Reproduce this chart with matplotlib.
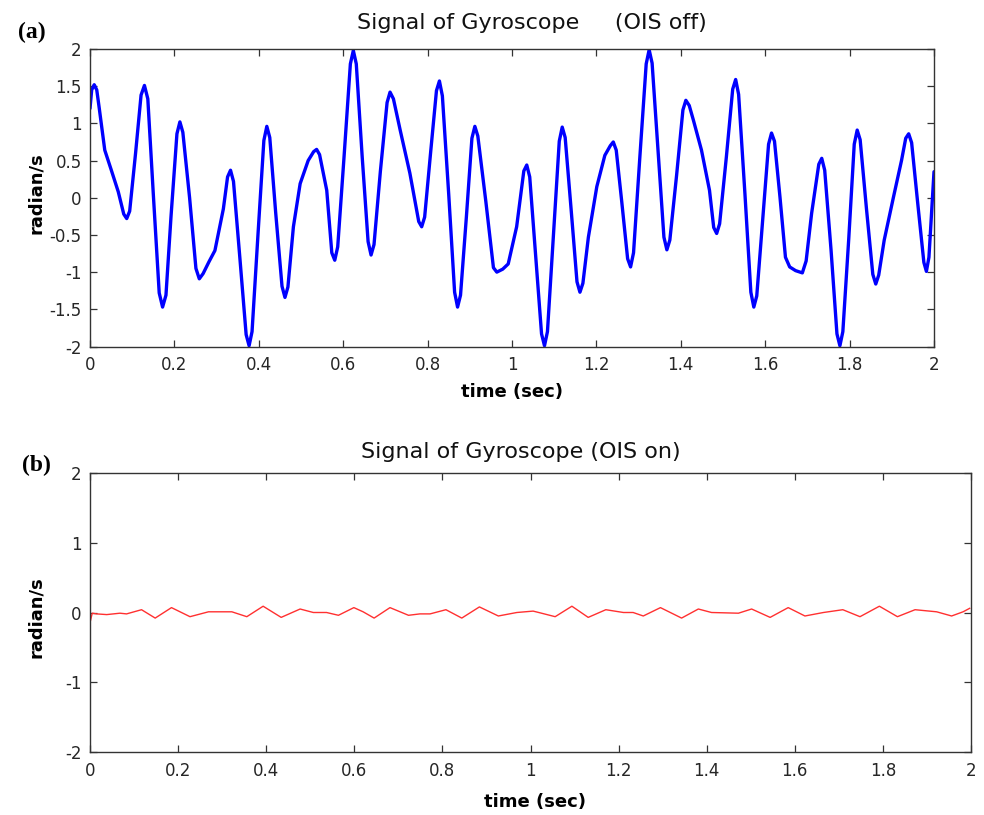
import matplotlib
matplotlib.use("Agg")
import matplotlib.pyplot as plt

# ---------------- data ----------------
t_off = [0.000, 0.004, 0.010, 0.016, 0.022, 0.035, 0.050, 0.067, 0.080, 0.087,
         0.094, 0.108, 0.121, 0.129, 0.137, 0.150, 0.164, 0.172, 0.180, 0.192,
         0.206, 0.213, 0.220, 0.236, 0.251, 0.259, 0.268, 0.282, 0.296, 0.316,
         0.326, 0.333, 0.340, 0.355, 0.370, 0.377, 0.384, 0.398, 0.412, 0.419,
         0.426, 0.440, 0.455, 0.462, 0.469, 0.482, 0.498, 0.517, 0.530, 0.537,
         0.544, 0.561, 0.573, 0.580, 0.587, 0.602, 0.617, 0.624, 0.631, 0.645,
         0.659, 0.666, 0.673, 0.688, 0.704, 0.711, 0.719, 0.735, 0.758, 0.779,
         0.786, 0.793, 0.807, 0.821, 0.828, 0.835, 0.850, 0.864, 0.871, 0.878,
         0.892, 0.905, 0.912, 0.919, 0.938, 0.956, 0.964, 0.978, 0.991, 1.011,
         1.028, 1.035, 1.042, 1.056, 1.070, 1.077, 1.084, 1.098, 1.112, 1.119,
         1.126, 1.140, 1.154, 1.161, 1.168, 1.181, 1.201, 1.220, 1.233, 1.240,
         1.247, 1.260, 1.274, 1.281, 1.288, 1.303, 1.318, 1.325, 1.332, 1.346,
         1.360, 1.367, 1.374, 1.390, 1.405, 1.412, 1.420, 1.430, 1.449, 1.468,
         1.478, 1.485, 1.492, 1.508, 1.523, 1.530, 1.537, 1.552, 1.566, 1.573,
         1.580, 1.594, 1.608, 1.615, 1.622, 1.635, 1.648, 1.658, 1.672, 1.688,
         1.697, 1.710, 1.727, 1.734, 1.741, 1.756, 1.770, 1.777, 1.784, 1.798,
         1.811, 1.818, 1.825, 1.840, 1.855, 1.862, 1.869, 1.882, 1.904, 1.923,
         1.933, 1.940, 1.947, 1.961, 1.976, 1.982, 1.988, 2.000]
v_off = [1.20, 1.45, 1.52, 1.45, 1.20, 0.64, 0.38, 0.08, -0.22, -0.28,
         -0.18, 0.60, 1.38, 1.51, 1.33, 0.05, -1.28, -1.47, -1.31, -0.25,
         0.86, 1.02, 0.88, 0.00, -0.95, -1.09, -1.02, -0.86, -0.71, -0.15,
         0.28, 0.37, 0.22, -0.80, -1.84, -1.99, -1.80, -0.50, 0.77, 0.96,
         0.81, -0.20, -1.19, -1.34, -1.20, -0.39, 0.19, 0.50, 0.62, 0.65,
         0.58, 0.10, -0.74, -0.84, -0.66, 0.55, 1.80, 1.98, 1.80, 0.55,
         -0.59, -0.77, -0.63, 0.35, 1.28, 1.42, 1.33, 0.91, 0.33, -0.32,
         -0.39, -0.26, 0.60, 1.44, 1.57, 1.37, 0.05, -1.27, -1.47, -1.31,
         -0.25, 0.80, 0.96, 0.83, -0.05, -0.94, -1.00, -0.96, -0.89, -0.39,
         0.36, 0.44, 0.28, -0.78, -1.83, -1.99, -1.80, -0.52, 0.76, 0.95,
         0.81, -0.15, -1.13, -1.27, -1.15, -0.53, 0.15, 0.57, 0.70, 0.75,
         0.64, -0.05, -0.82, -0.93, -0.74, 0.55, 1.80, 1.99, 1.81, 0.65,
         -0.53, -0.70, -0.57, 0.30, 1.18, 1.31, 1.24, 1.04, 0.64, 0.10,
         -0.40, -0.48, -0.35, 0.55, 1.46, 1.59, 1.39, 0.05, -1.27, -1.47,
         -1.32, -0.30, 0.72, 0.87, 0.76, 0.01, -0.80, -0.93, -0.98, -1.01,
         -0.85, -0.21, 0.45, 0.53, 0.37, -0.70, -1.83, -1.99, -1.80, -0.55,
         0.72, 0.91, 0.78, -0.15, -1.03, -1.16, -1.04, -0.57, 0.01, 0.50,
         0.80, 0.86, 0.74, -0.05, -0.87, -0.99, -0.80, 0.35]

t_on = [0.000, 0.001, 0.005, 0.015, 0.038, 0.068, 0.083, 0.117, 0.148, 0.185,
        0.227, 0.269, 0.322, 0.356, 0.393, 0.434, 0.477, 0.507, 0.537, 0.564,
        0.599, 0.620, 0.645, 0.681, 0.723, 0.749, 0.772, 0.808, 0.844, 0.884,
        0.927, 0.969, 1.006, 1.025, 1.056, 1.094, 1.131, 1.171, 1.211, 1.233,
        1.256, 1.295, 1.343, 1.381, 1.411, 1.472, 1.502, 1.544, 1.585, 1.623,
        1.665, 1.709, 1.748, 1.792, 1.833, 1.873, 1.922, 1.956, 1.982, 1.997]
v_on = [0.08, -0.12, -0.01, -0.02, -0.03, -0.01, -0.02, 0.04, -0.08, 0.07,
        -0.06, 0.01, 0.01, -0.06, 0.09, -0.07, 0.05, 0.00, 0.00, -0.04,
        0.07, 0.01, -0.08, 0.07, -0.04, -0.02, -0.02, 0.04, -0.08, 0.08,
        -0.05, 0.00, 0.02, -0.01, -0.06, 0.09, -0.07, 0.04, 0.00, 0.00,
        -0.05, 0.07, -0.08, 0.05, 0.00, -0.01, 0.05, -0.07, 0.07, -0.05,
        0.00, 0.04, -0.06, 0.09, -0.06, 0.04, 0.01, -0.05, 0.01, 0.06]

x_ticks = [0, 0.2, 0.4, 0.6, 0.8, 1, 1.2, 1.4, 1.6, 1.8, 2]
x_tick_labels = ["0", "0.2", "0.4", "0.6", "0.8", "1", "1.2", "1.4", "1.6", "1.8", "2"]
y_ticks_a = [-2, -1.5, -1, -0.5, 0, 0.5, 1, 1.5, 2]
y_tick_labels_a = ["-2", "-1.5", "-1", "-0.5", "0", "0.5", "1", "1.5", "2"]
y_ticks_b = [-2, -1, 0, 1, 2]
y_tick_labels_b = ["-2", "-1", "0", "1", "2"]

# ---------------- figure ----------------
W, H = 984, 815
fig = plt.figure(figsize=(W / 100, H / 100), dpi=100)
plt.rcParams['font.family'] = ['DejaVu Sans']

def px_axes(l, t, r, b):
    return fig.add_axes([l / W, 1 - b / H, (r - l) / W, (b - t) / H])

ax1 = px_axes(90, 49, 934, 346.5)
ax2 = px_axes(90, 473, 971, 752)

spine_col = '#333333'
for ax in (ax1, ax2):
    for s in ax.spines.values():
        s.set_color(spine_col)
        s.set_linewidth(1.0)
    ax.tick_params(direction='in', length=5, width=0.9, color=spine_col,
                   top=True, right=True, labelsize=12, labelcolor='#262626')
    ax.tick_params(axis='x', pad=7)
    ax.tick_params(axis='y', pad=6)
    ax.set_xlim(0, 2)
    ax.set_xticks(x_ticks)
    ax.set_xticklabels(x_tick_labels)

ax1.plot(t_off, v_off, color='#0000ff', linewidth=2.4,
         solid_joinstyle='round', solid_capstyle='round')
ax1.set_ylim(-2, 2)
ax1.set_yticks(y_ticks_a)
ax1.set_yticklabels(y_tick_labels_a)

ax2.plot(t_on, v_on, color='#ff3030', linewidth=1.0)
ax2.set_ylim(-2, 2)
ax2.set_yticks(y_ticks_b)
ax2.set_yticklabels(y_tick_labels_b)

# titles / labels placed in pixel coordinates
def ftext(x, y, s, **kw):
    fig.text(x / W, 1 - y / H, s, **kw)

ftext(532, 23, "Signal of Gyroscope     (OIS off)", ha='center', va='center',
      fontsize=16, color='#111111')
ftext(521, 452, "Signal of Gyroscope (OIS on)", ha='center', va='center',
      fontsize=16, color='#111111')

ftext(512, 392, "time (sec)", ha='center', va='center', fontsize=13, fontweight='bold')
ftext(535, 802, "time (sec)", ha='center', va='center', fontsize=13, fontweight='bold')

ftext(36, 193, "radian/s", ha='center', va='center', fontsize=13, fontweight='bold', rotation=90)
ftext(36, 617, "radian/s", ha='center', va='center', fontsize=13, fontweight='bold', rotation=90)

ftext(32, 32, "(a)", ha='center', va='center', fontsize=17, fontweight='bold',
      family=['Liberation Serif', 'DejaVu Serif'])
ftext(36, 465, "(b)", ha='center', va='center', fontsize=17, fontweight='bold',
      family=['Liberation Serif', 'DejaVu Serif'])

fig.savefig("out.png", dpi=100, facecolor='white')
